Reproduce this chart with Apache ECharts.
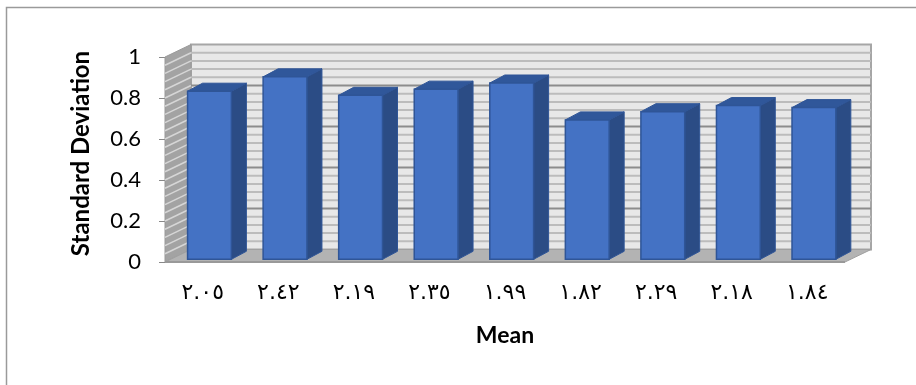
<!doctype html>
<html>
	<head>
		<meta charset="utf-8">
		<title>Standard Deviation / Mean</title>
		<script type="text/javascript" src="https://cdn.jsdelivr.net/npm/echarts@6/dist/echarts.min.js"></script>
	</head>
	<body style="margin:0;padding:0;background:#fff">
		<div id="tb" style="width:916px;height:385px;"></div>
		<script>
			// data
			var categories = ['٢.٠٥', '٢.٤٢', '٢.١٩', '٢.٣٥', '١.٩٩', '١.٨٢', '٢.٢٩', '٢.١٨', '١.٨٤'];
			var sdValues = [0.82, 0.89, 0.80, 0.83, 0.86, 0.68, 0.72, 0.75, 0.74];
			var yMin = 0, yMax = 1, yStep = 0.2, yMinorStep = 0.04;

			// 3d look: wall depth and bar depth (pixels)
			var WALL_DX = 26, WALL_DY = -12.5;
			var BAR_OFF_X = 6.7, BAR_OFF_Y = -2.7;
			var BAR_DX = 15, BAR_DY = -8;

			var bt = document.getElementById('tb');
			var btchart = echarts.init(bt);

			// walls + floor + gridlines
			function renderWalls(params, api) {
				var cs = params.coordSys;
				var L = cs.x, R = cs.x + cs.width;
				var y0 = api.coord([0, yMin])[1];
				var y1 = api.coord([0, yMax])[1];
				var kids = [];
				// back wall
				kids.push({type: 'rect', shape: {x: L + WALL_DX, y: y1 + WALL_DY, width: R - L, height: y0 - y1},
					style: {fill: '#e8e8e8', stroke: '#a6a6a6', lineWidth: 2}});
				// left wall
				kids.push({type: 'polygon', shape: {points: [[L, y0], [L, y1], [L + WALL_DX, y1 + WALL_DY], [L + WALL_DX, y0 + WALL_DY]]},
					style: {fill: '#a3a3a3', stroke: '#999', lineWidth: 1}});
				var n = Math.round((yMax - yMin) / yMinorStep);
				for (var i = 1; i < n; i++) {
					var v = yMin + i * yMinorStep;
					var yy = api.coord([0, v])[1];
					var major = (i % Math.round(yStep / yMinorStep)) === 0;
					kids.push({type: 'line', shape: {x1: L + WALL_DX, y1: yy + WALL_DY, x2: R + WALL_DX, y2: yy + WALL_DY},
						style: {stroke: major ? '#8c8c8c' : '#bcbcbc', lineWidth: 2}});
					kids.push({type: 'line', shape: {x1: L, y1: yy, x2: L + WALL_DX, y2: yy + WALL_DY},
						style: {stroke: '#d6d6d6', lineWidth: 1.5}});
				}
				// floor
				kids.push({type: 'polygon', shape: {points: [[L, y0], [R, y0], [R + WALL_DX, y0 + WALL_DY], [L + WALL_DX, y0 + WALL_DY]]},
					style: {fill: '#b3b3b3', stroke: '#a0a0a0', lineWidth: 1}});
				kids.push({type: 'line', shape: {x1: L, y1: y0, x2: R, y2: y0}, style: {stroke: '#999', lineWidth: 2}});
				return {type: 'group', children: kids};
			}

			function renderBar(params, api) {
				var idx = api.value(0);
				var top = api.coord([idx, api.value(1)]);
				var base = api.coord([idx, 0]);
				var w = api.size([1, 0])[0] * 0.58;
				var x0 = top[0] - w / 2 + BAR_OFF_X, x1 = x0 + w;
				var yt = top[1] + BAR_OFF_Y, yb = base[1] + BAR_OFF_Y;
				return {type: 'group', children: [
					{type: 'polygon', shape: {points: [[x1, yb], [x1, yt], [x1 + BAR_DX, yt + BAR_DY], [x1 + BAR_DX, yb + BAR_DY]]},
						style: {fill: '#2b4c85', stroke: '#2f5597', lineWidth: 1}},
					{type: 'polygon', shape: {points: [[x0, yt], [x1, yt], [x1 + BAR_DX, yt + BAR_DY], [x0 + BAR_DX, yt + BAR_DY]]},
						style: {fill: '#30579a', stroke: '#2f5597', lineWidth: 1}},
					{type: 'rect', shape: {x: x0, y: yt, width: w, height: yb - yt},
						style: {fill: '#4472c4', stroke: '#2f5597', lineWidth: 1.5}}
				]};
			}

			btchart.setOption({
				animation: false,
				grid: {left: 165, right: 71, top: 57, bottom: 123},
				graphic: [{type: 'rect', shape: {x: 6.5, y: 7.5, width: 1000, height: 1000},
					style: {fill: 'none', stroke: '#9a9a9a', lineWidth: 1.5}, silent: true}],
				xAxis: {
					type: 'category',
					data: categories,
					name: 'Mean',
					nameLocation: 'middle',
					nameGap: 62,
					nameTextStyle: {fontFamily: 'Lato', fontWeight: 'bold', fontSize: 23, color: '#000'},
					axisLine: {show: false},
					axisTick: {show: false},
					axisLabel: {margin: 20, fontFamily: 'DejaVu Sans', fontSize: 22, color: '#000'}
				},
				yAxis: {
					type: 'value',
					min: yMin, max: yMax, interval: yStep,
					name: 'Standard Deviation',
					nameLocation: 'middle',
					nameRotate: 90,
					nameGap: 72,
					nameTextStyle: {fontFamily: 'Lato', fontWeight: 'bold', fontSize: 24, color: '#000', padding: [0, 0, 0, 12]},
					splitLine: {show: false},
					axisLine: {show: false},
					axisTick: {show: true, length: 6, lineStyle: {color: '#888'}},
					axisLabel: {margin: 24, fontFamily: 'Lato', fontSize: 22, color: '#000'}
				},
				series: [{
					type: 'custom',
					silent: true,
					clip: false,
					renderItem: renderWalls,
					data: [[0, 0]],
					z: 1
				}, {
					type: 'custom',
					clip: false,
					renderItem: renderBar,
					encode: {x: 0, y: 1},
					data: sdValues.map(function(v, i) { return [i, v]; }),
					z: 2
				}]
			});
		</script>
	</body>
</html>
